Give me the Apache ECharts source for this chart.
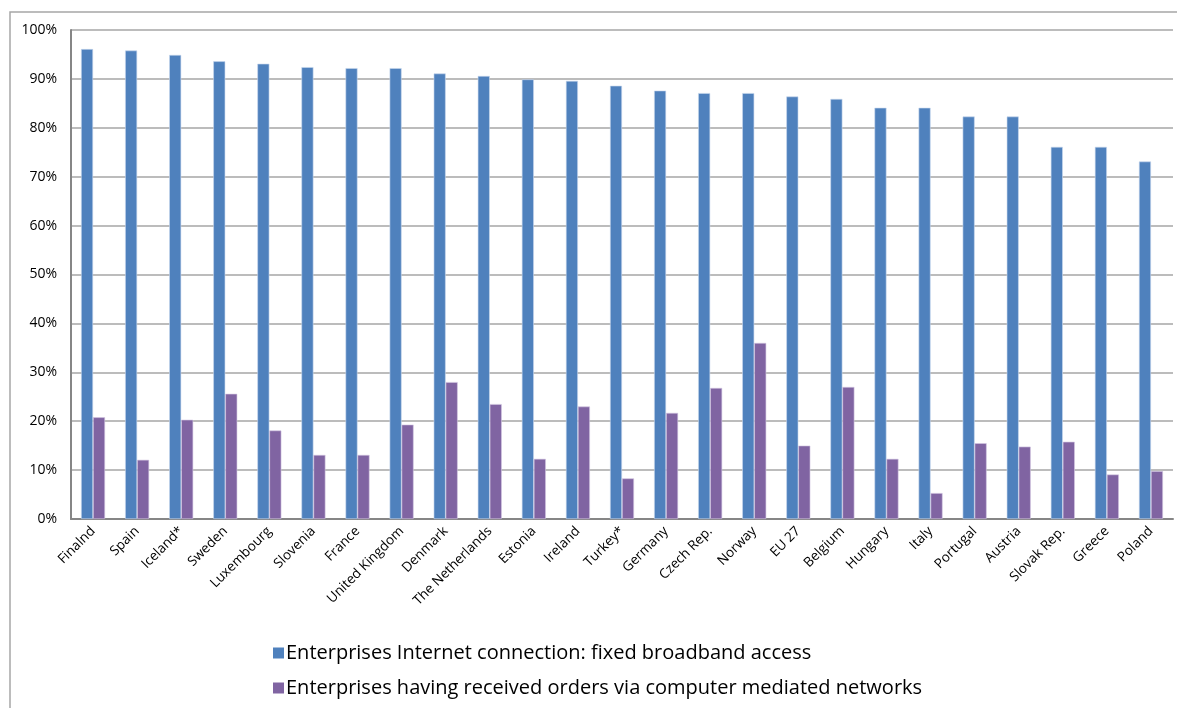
<!DOCTYPE html>
<html>
<head>
<meta charset="utf-8">
<script src="https://cdn.jsdelivr.net/npm/echarts@6/dist/echarts.min.js"></script>
<style>
  html, body { margin: 0; padding: 0; background: #ffffff; }
  #chart { width: 1177px; height: 708px; }
</style>
</head>
<body>
<div id="chart"></div>
<script>
// Countries, in the order shown on the horizontal axis
const countries = [
  'Finalnd', 'Spain', 'Iceland*', 'Sweden', 'Luxembourg', 'Slovenia', 'France',
  'United Kingdom', 'Denmark', 'The Netherlands', 'Estonia', 'Ireland', 'Turkey*',
  'Germany', 'Czech Rep.', 'Norway', 'EU 27', 'Belgium', 'Hungary', 'Italy',
  'Portugal', 'Austria', 'Slovak Rep.', 'Greece', 'Poland'
];

// Share of enterprises with fixed broadband access (%)
const broadband = [
  96.1, 95.8, 94.9, 93.6, 93.1, 92.4, 92.2,
  92.2, 91.1, 90.6, 89.9, 89.6, 88.6,
  87.6, 87.1, 87.1, 86.4, 85.9, 84.1, 84.1,
  82.3, 82.3, 76.1, 76.1, 73.1
];

// Share of enterprises having received orders via computer mediated networks (%)
const receivedOrders = [
  20.8, 12.1, 20.3, 25.6, 18.1, 13.1, 13.1,
  19.3, 28.0, 23.5, 12.3, 23.0, 8.3,
  21.7, 26.8, 36.0, 15.0, 27.0, 12.3, 5.3,
  15.5, 14.8, 15.8, 9.1, 9.8
];

const seriesNames = [
  'Enterprises Internet connection: fixed broadband access',
  'Enterprises having received orders via computer mediated networks'
];

const yTicks = { min: 0, max: 100, interval: 10 };

const font = '"Open Sans", "Noto Sans", "Liberation Sans", sans-serif';

const chart = echarts.init(document.getElementById('chart'), null, { renderer: 'canvas' });

chart.setOption({
  animation: false,
  backgroundColor: '#ffffff',
  color: ['#4F81BD', '#8064A2'],
  graphic: [{
    type: 'rect',
    shape: { x: 10, y: 12, width: 1180, height: 720 },
    style: { fill: 'none', stroke: '#a6a6a6', lineWidth: 1.5 },
    silent: true,
    z: -1
  }],
  grid: { left: 71, right: 4, top: 30, height: 489, containLabel: false },
  legend: {
    orient: 'vertical',
    left: 268,
    top: 638,
    itemGap: 15,
    itemWidth: 11,
    itemHeight: 11,
    icon: 'rect',
    itemStyle: { borderWidth: 0 },
    textStyle: { fontFamily: font, fontSize: 20, color: '#000000', padding: [0, 0, 0, -3] },
    data: seriesNames
  },
  xAxis: {
    type: 'category',
    data: countries,
    axisLine: { show: true, lineStyle: { color: '#868686', width: 2 } },
    axisTick: { show: false },
    axisLabel: {
      rotate: 45,
      interval: 0,
      margin: 10,
      fontFamily: font,
      fontSize: 13.5,
      color: '#000000'
    }
  },
  yAxis: {
    type: 'value',
    min: yTicks.min,
    max: yTicks.max,
    interval: yTicks.interval,
    axisLine: { show: true, lineStyle: { color: '#868686', width: 2 } },
    axisTick: { show: false },
    splitLine: { show: true, lineStyle: { color: '#a6a6a6', width: 1.5 } },
    axisLabel: {
      formatter: '{value}%',
      margin: 14,
      fontFamily: font,
      fontSize: 14,
      color: '#000000'
    }
  },
  series: [
    {
      name: seriesNames[0],
      type: 'bar',
      data: broadband,
      barWidth: 12,
      barGap: '0%',
      itemStyle: { color: '#4F81BD', borderColor: '#c9d8ee', borderWidth: 0.6 }
    },
    {
      name: seriesNames[1],
      type: 'bar',
      data: receivedOrders,
      barWidth: 12,
      barGap: '0%',
      itemStyle: { color: '#8064A2', borderColor: '#d4c8e2', borderWidth: 0.6 }
    }
  ]
});
</script>
</body>
</html>
